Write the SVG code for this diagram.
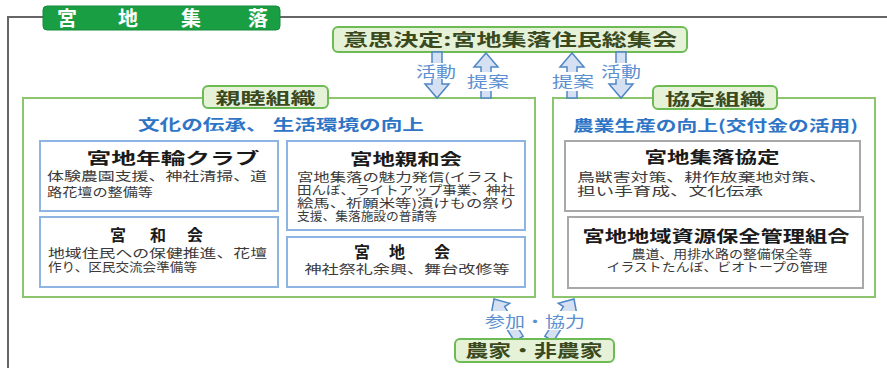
<svg xmlns="http://www.w3.org/2000/svg" width="887" height="368" viewBox="0 0 887 368">
<style>
text{font-family:"Noto Sans CJK JP","Noto Sans CJK SC",sans-serif}
.frame{fill:none;stroke:#666;stroke-width:2}
.title{fill:#1a9e44;stroke:#168a3a;stroke-width:1}
.titletx{fill:#fff;font-size:20px;font-weight:700;text-anchor:middle}
.gbox{fill:#e6f2d8;stroke:#6dbb55;stroke-width:2}
.gtx{fill:#3b4a1e;font-weight:700;text-anchor:middle}
.grp{fill:#fff;stroke:#8cc56e;stroke-width:2}
.sub{fill:#2e75c6;font-size:15px;font-weight:700}
.bbox{fill:#fff;stroke:#8eb4e3;stroke-width:2}
.kbox{fill:#fff;stroke:#a8a8a8;stroke-width:2}
.h{fill:#1a1a1a;font-size:16px;font-weight:700;text-anchor:middle}
.body{fill:#3a3a3a;font-size:12.5px}
.sm{font-size:12px}
.mid{text-anchor:middle}
.arr{fill:#d5e1f2;stroke:#4f86c6;stroke-width:1.5;stroke-linejoin:miter}
.lbl{fill:#5b8fd0;font-size:15px;text-anchor:middle}
.bg{fill:#fff}
</style>

<g id="frame">
  <path class="frame" d="M8,368 L8,17 L887,17"/>
</g>

<g id="title">
  <rect class="title" x="43" y="6" width="237" height="24" rx="4"/>
  <text class="titletx" x="67 128 191 258" y="26">宮地集落</text>
</g>

<g id="assembly">
  <rect class="gbox" x="333" y="27" width="354" height="25" rx="5"/>
  <text class="gtx" x="510" y="46" font-size="17" textLength="334" lengthAdjust="spacingAndGlyphs">意思決定:宮地集落住民総集会</text>
</g>

<g id="shinboku">
  <rect class="grp" x="23" y="98" width="512" height="199"/>
  <rect class="gbox" x="203" y="86" width="125" height="22" rx="5"/>
  <text class="gtx" x="265.5" y="104" font-size="16" textLength="100" lengthAdjust="spacingAndGlyphs">親睦組織</text>
  <text class="sub" x="138" y="130" textLength="286" lengthAdjust="spacingAndGlyphs">文化の伝承、 生活環境の向上</text>
</g>

<g id="nenrin">
  <rect class="bbox" x="40" y="141" width="238" height="70"/>
  <text class="h" x="173" y="164" textLength="173" lengthAdjust="spacingAndGlyphs">宮地年輪クラブ</text>
  <text class="body" x="47" y="181" textLength="220" lengthAdjust="spacingAndGlyphs">体験農園支援、神社清掃、道</text>
  <text class="body" x="47" y="197" textLength="106" lengthAdjust="spacingAndGlyphs">路花壇の整備等</text>
</g>

<g id="miyawakai">
  <rect class="bbox" x="40" y="217" width="238" height="70"/>
  <text class="h" x="118 158 195" y="241" font-size="17">宮和会</text>
  <text class="body" x="48" y="258" textLength="219" lengthAdjust="spacingAndGlyphs">地域住民への保健推進、花壇</text>
  <text class="body" x="48" y="272" textLength="149" lengthAdjust="spacingAndGlyphs">作り、区民交流会準備等</text>
</g>

<g id="shinwakai">
  <rect class="bbox" x="287" y="141" width="238" height="89"/>
  <text class="h" x="406" y="165" textLength="112" lengthAdjust="spacingAndGlyphs">宮地親和会</text>
  <text class="body sm" x="297" y="182" textLength="218" lengthAdjust="spacingAndGlyphs">宮地集落の魅力発信(イラスト</text>
  <text class="body sm" x="297" y="195" textLength="218" lengthAdjust="spacingAndGlyphs">田んぼ、ライトアップ事業、神社</text>
  <text class="body sm" x="297" y="208" textLength="218" lengthAdjust="spacingAndGlyphs">絵馬、祈願米等)漬けもの祭り</text>
  <text class="body sm" x="297" y="221" textLength="140" lengthAdjust="spacingAndGlyphs">支援、集落施設の普請等</text>
</g>

<g id="miyachikai">
  <rect class="bbox" x="287" y="237" width="238" height="50"/>
  <text class="h" x="362 397 442" y="258" font-size="17">宮地会</text>
  <text class="body mid" x="407" y="274" textLength="205" lengthAdjust="spacingAndGlyphs">神社祭礼余興、舞台改修等</text>
</g>

<g id="kyotei">
  <rect class="grp" x="553" y="98" width="322" height="199"/>
  <rect class="gbox" x="653" y="86" width="124" height="23" rx="5"/>
  <text class="gtx" x="715" y="105" font-size="16" textLength="100" lengthAdjust="spacingAndGlyphs">協定組織</text>
  <text class="sub" x="573" y="131" textLength="285" lengthAdjust="spacingAndGlyphs">農業生産の向上(交付金の活用)</text>
</g>

<g id="shuraku-kyotei">
  <rect class="kbox" x="565" y="141" width="295" height="70"/>
  <text class="h" x="712" y="163" textLength="135" lengthAdjust="spacingAndGlyphs">宮地集落協定</text>
  <text class="body" x="577" y="182" textLength="250" lengthAdjust="spacingAndGlyphs">鳥獣害対策、耕作放棄地対策、</text>
  <text class="body" x="577" y="196" textLength="186" lengthAdjust="spacingAndGlyphs">担い手育成、文化伝承</text>
</g>

<g id="shigen">
  <rect class="kbox" x="568" y="217" width="295" height="71"/>
  <text class="h" x="716" y="242" textLength="267" lengthAdjust="spacingAndGlyphs">宮地地域資源保全管理組合</text>
  <text class="body sm mid" x="722" y="259" textLength="181" lengthAdjust="spacingAndGlyphs">農道、用排水路の整備保全等</text>
  <text class="body sm mid" x="717" y="272" textLength="221" lengthAdjust="spacingAndGlyphs">イラストたんぼ、ビオトープの管理</text>
</g>

<g id="connectors">
  <path class="arr" d="M432,52 L442,52 L442,84 L449,84 L437,98 L425,84 L432,84 Z"/>
  <rect class="bg" x="413" y="63" width="48" height="16"/>
  <text class="lbl" x="436" y="77" textLength="40" lengthAdjust="spacingAndGlyphs">活動</text>

  <path class="arr" d="M486,53 L498,67 L491,67 L491,98 L481,98 L481,67 L474,67 Z"/>
  <rect class="bg" x="465" y="72" width="46" height="19"/>
  <text class="lbl" x="488" y="87" textLength="42" lengthAdjust="spacingAndGlyphs">提案</text>

  <path class="arr" d="M572,53 L584,67 L577,67 L577,98 L567,98 L567,67 L560,67 Z"/>
  <rect class="bg" x="550" y="72" width="46" height="19"/>
  <text class="lbl" x="573" y="87" textLength="42" lengthAdjust="spacingAndGlyphs">提案</text>

  <path class="arr" d="M616,52 L626,52 L626,84 L633,84 L621,98 L609,84 L616,84 Z"/>
  <rect class="bg" x="598" y="63" width="48" height="16"/>
  <text class="lbl" x="621" y="77" textLength="40" lengthAdjust="spacingAndGlyphs">活動</text>

  <path class="arr" transform="translate(494,299) rotate(-32)" d="M0,0 L11,12 L5,12 L5,47 L-5,47 L-5,12 L-11,12 Z"/>
  <path class="arr" transform="translate(574,299) rotate(32)" d="M0,0 L11,12 L5,12 L5,47 L-5,47 L-5,12 L-11,12 Z"/>
  <rect class="bg" x="482" y="311" width="106" height="19"/>
  <text class="lbl" x="535" y="327" textLength="100" lengthAdjust="spacingAndGlyphs">参加・協力</text>
</g>

<g id="farmers">
  <rect class="gbox" x="455" y="339" width="159" height="23" rx="5"/>
  <text class="gtx" x="534" y="357" font-size="17" textLength="137" lengthAdjust="spacingAndGlyphs">農家・非農家</text>
</g>
</svg>
